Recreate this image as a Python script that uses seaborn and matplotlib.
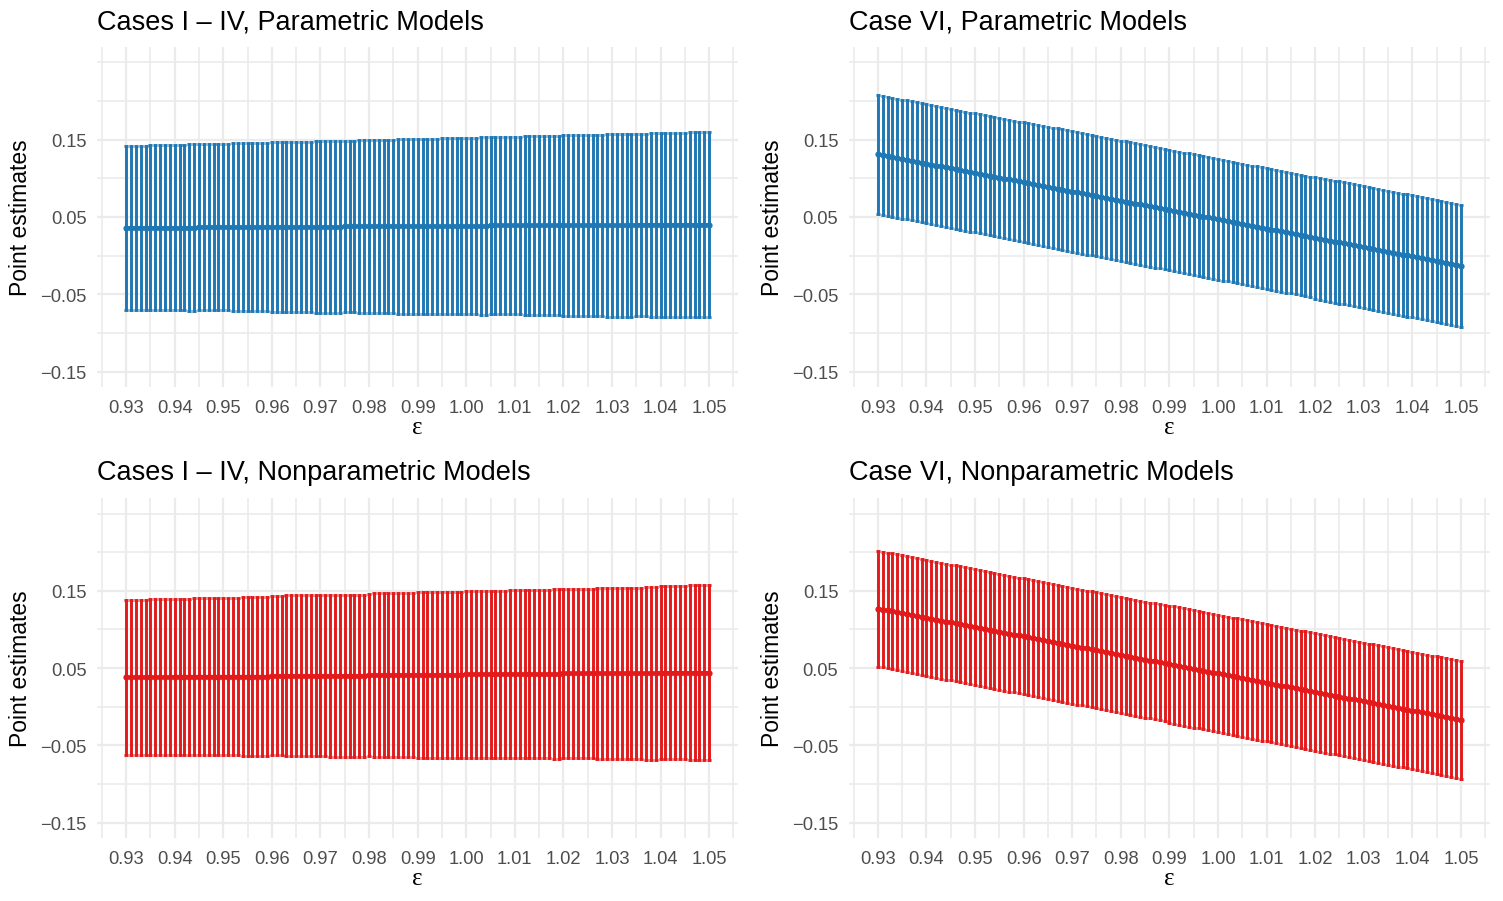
import matplotlib
matplotlib.use("Agg")
import matplotlib.pyplot as plt
import numpy as np
import pandas as pd
import seaborn as sns

## sensitivity parameter grid (epsilon)
eps = [
    0.930, 0.931, 0.932, 0.933, 0.934, 0.935, 0.936, 0.937, 0.938, 0.939,
    0.940, 0.941, 0.942, 0.943, 0.944, 0.945, 0.946, 0.947, 0.948, 0.949,
    0.950, 0.951, 0.952, 0.953, 0.954, 0.955, 0.956, 0.957, 0.958, 0.959,
    0.960, 0.961, 0.962, 0.963, 0.964, 0.965, 0.966, 0.967, 0.968, 0.969,
    0.970, 0.971, 0.972, 0.973, 0.974, 0.975, 0.976, 0.977, 0.978, 0.979,
    0.980, 0.981, 0.982, 0.983, 0.984, 0.985, 0.986, 0.987, 0.988, 0.989,
    0.990, 0.991, 0.992, 0.993, 0.994, 0.995, 0.996, 0.997, 0.998, 0.999,
    1.000, 1.001, 1.002, 1.003, 1.004, 1.005, 1.006, 1.007, 1.008, 1.009,
    1.010, 1.011, 1.012, 1.013, 1.014, 1.015, 1.016, 1.017, 1.018, 1.019,
    1.020, 1.021, 1.022, 1.023, 1.024, 1.025, 1.026, 1.027, 1.028, 1.029,
    1.030, 1.031, 1.032, 1.033, 1.034, 1.035, 1.036, 1.037, 1.038, 1.039,
    1.040, 1.041, 1.042, 1.043, 1.044, 1.045, 1.046, 1.047, 1.048, 1.049,
    1.050,
]

## Cases I - IV, parametric: point estimate and CI half width
par14_est = [
    0.036, 0.036, 0.036, 0.036, 0.036, 0.036, 0.036, 0.036, 0.036, 0.036,
    0.036, 0.036, 0.036, 0.036, 0.036, 0.037, 0.037, 0.037, 0.037, 0.037,
    0.037, 0.037, 0.037, 0.037, 0.037, 0.037, 0.037, 0.037, 0.037, 0.037,
    0.037, 0.037, 0.037, 0.037, 0.037, 0.037, 0.037, 0.037, 0.037, 0.037,
    0.037, 0.037, 0.037, 0.037, 0.037, 0.038, 0.038, 0.038, 0.038, 0.038,
    0.038, 0.038, 0.038, 0.038, 0.038, 0.038, 0.038, 0.038, 0.038, 0.038,
    0.038, 0.038, 0.038, 0.038, 0.038, 0.038, 0.038, 0.038, 0.038, 0.038,
    0.038, 0.038, 0.038, 0.038, 0.038, 0.039, 0.039, 0.039, 0.039, 0.039,
    0.039, 0.039, 0.039, 0.039, 0.039, 0.039, 0.039, 0.039, 0.039, 0.039,
    0.039, 0.039, 0.039, 0.039, 0.039, 0.039, 0.039, 0.039, 0.039, 0.039,
    0.039, 0.039, 0.039, 0.039, 0.039, 0.040, 0.040, 0.040, 0.040, 0.040,
    0.040, 0.040, 0.040, 0.040, 0.040, 0.040, 0.040, 0.040, 0.040, 0.040,
    0.040,
]
par14_hw = [
    0.106, 0.106, 0.106, 0.106, 0.106, 0.107, 0.107, 0.107, 0.107, 0.107,
    0.107, 0.107, 0.107, 0.108, 0.108, 0.108, 0.108, 0.108, 0.108, 0.108,
    0.108, 0.108, 0.109, 0.109, 0.109, 0.109, 0.109, 0.109, 0.109, 0.109,
    0.110, 0.110, 0.110, 0.110, 0.110, 0.110, 0.110, 0.110, 0.110, 0.111,
    0.111, 0.111, 0.111, 0.111, 0.111, 0.111, 0.111, 0.111, 0.112, 0.112,
    0.112, 0.112, 0.112, 0.112, 0.112, 0.112, 0.113, 0.113, 0.113, 0.113,
    0.113, 0.113, 0.113, 0.113, 0.113, 0.114, 0.114, 0.114, 0.114, 0.114,
    0.114, 0.114, 0.114, 0.115, 0.115, 0.115, 0.115, 0.115, 0.115, 0.115,
    0.115, 0.115, 0.116, 0.116, 0.116, 0.116, 0.116, 0.116, 0.116, 0.116,
    0.117, 0.117, 0.117, 0.117, 0.117, 0.117, 0.117, 0.117, 0.117, 0.118,
    0.118, 0.118, 0.118, 0.118, 0.118, 0.118, 0.118, 0.118, 0.119, 0.119,
    0.119, 0.119, 0.119, 0.119, 0.119, 0.119, 0.120, 0.120, 0.120, 0.120,
    0.120,
]

## Case VI, parametric
par6_est = [
    0.1310, 0.1298, 0.1286, 0.1274, 0.1262, 0.1250, 0.1238, 0.1226, 0.1214, 0.1202,
    0.1190, 0.1178, 0.1166, 0.1154, 0.1142, 0.1130, 0.1118, 0.1106, 0.1094, 0.1082,
    0.1070, 0.1058, 0.1046, 0.1034, 0.1022, 0.1010, 0.0998, 0.0986, 0.0974, 0.0962,
    0.0950, 0.0938, 0.0926, 0.0914, 0.0902, 0.0890, 0.0878, 0.0866, 0.0854, 0.0842,
    0.0830, 0.0818, 0.0806, 0.0794, 0.0782, 0.0770, 0.0758, 0.0746, 0.0734, 0.0722,
    0.0710, 0.0698, 0.0686, 0.0674, 0.0662, 0.0650, 0.0638, 0.0626, 0.0614, 0.0602,
    0.0590, 0.0578, 0.0566, 0.0554, 0.0542, 0.0530, 0.0518, 0.0506, 0.0494, 0.0482,
    0.0470, 0.0458, 0.0446, 0.0434, 0.0422, 0.0410, 0.0398, 0.0386, 0.0374, 0.0362,
    0.0350, 0.0338, 0.0326, 0.0314, 0.0302, 0.0290, 0.0278, 0.0266, 0.0254, 0.0242,
    0.0230, 0.0218, 0.0206, 0.0194, 0.0182, 0.0170, 0.0158, 0.0146, 0.0134, 0.0122,
    0.0110, 0.0098, 0.0086, 0.0074, 0.0062, 0.0050, 0.0038, 0.0026, 0.0014, 0.0002,
    -0.0010, -0.0022, -0.0034, -0.0046, -0.0058, -0.0070, -0.0082, -0.0094, -0.0106, -0.0118,
    -0.0130,
]
par6_hw = [
    0.077, 0.077, 0.077, 0.077, 0.077, 0.077, 0.077, 0.077, 0.077, 0.077,
    0.077, 0.077, 0.077, 0.077, 0.077, 0.077, 0.077, 0.077, 0.077, 0.077,
    0.077, 0.077, 0.077, 0.077, 0.077, 0.077, 0.077, 0.077, 0.077, 0.077,
    0.078, 0.078, 0.078, 0.078, 0.078, 0.078, 0.078, 0.078, 0.078, 0.078,
    0.078, 0.078, 0.078, 0.078, 0.078, 0.078, 0.078, 0.078, 0.078, 0.078,
    0.078, 0.078, 0.078, 0.078, 0.078, 0.078, 0.078, 0.078, 0.078, 0.078,
    0.078, 0.078, 0.078, 0.078, 0.078, 0.078, 0.078, 0.078, 0.078, 0.078,
    0.078, 0.078, 0.078, 0.078, 0.078, 0.078, 0.078, 0.078, 0.078, 0.078,
    0.078, 0.078, 0.078, 0.078, 0.078, 0.078, 0.078, 0.078, 0.078, 0.078,
    0.079, 0.079, 0.079, 0.079, 0.079, 0.079, 0.079, 0.079, 0.079, 0.079,
    0.079, 0.079, 0.079, 0.079, 0.079, 0.079, 0.079, 0.079, 0.079, 0.079,
    0.079, 0.079, 0.079, 0.079, 0.079, 0.079, 0.079, 0.079, 0.079, 0.079,
    0.079,
]

## Cases I - IV, nonparametric
np14_est = [
    0.038, 0.038, 0.038, 0.038, 0.038, 0.038, 0.038, 0.038, 0.038, 0.038,
    0.039, 0.039, 0.039, 0.039, 0.039, 0.039, 0.039, 0.039, 0.039, 0.039,
    0.039, 0.039, 0.039, 0.039, 0.039, 0.039, 0.039, 0.039, 0.039, 0.039,
    0.040, 0.040, 0.040, 0.040, 0.040, 0.040, 0.040, 0.040, 0.040, 0.040,
    0.040, 0.040, 0.040, 0.040, 0.040, 0.040, 0.040, 0.040, 0.040, 0.040,
    0.041, 0.041, 0.041, 0.041, 0.041, 0.041, 0.041, 0.041, 0.041, 0.041,
    0.041, 0.041, 0.041, 0.041, 0.041, 0.041, 0.041, 0.041, 0.041, 0.041,
    0.042, 0.042, 0.042, 0.042, 0.042, 0.042, 0.042, 0.042, 0.042, 0.042,
    0.042, 0.042, 0.042, 0.042, 0.042, 0.042, 0.042, 0.042, 0.042, 0.042,
    0.043, 0.043, 0.043, 0.043, 0.043, 0.043, 0.043, 0.043, 0.043, 0.043,
    0.043, 0.043, 0.043, 0.043, 0.043, 0.043, 0.043, 0.043, 0.043, 0.043,
    0.044, 0.044, 0.044, 0.044, 0.044, 0.044, 0.044, 0.044, 0.044, 0.044,
    0.044,
]
np14_hw = [
    0.100, 0.100, 0.100, 0.100, 0.100, 0.101, 0.101, 0.101, 0.101, 0.101,
    0.101, 0.101, 0.101, 0.101, 0.102, 0.102, 0.102, 0.102, 0.102, 0.102,
    0.102, 0.102, 0.102, 0.102, 0.103, 0.103, 0.103, 0.103, 0.103, 0.103,
    0.103, 0.103, 0.103, 0.104, 0.104, 0.104, 0.104, 0.104, 0.104, 0.104,
    0.104, 0.104, 0.105, 0.105, 0.105, 0.105, 0.105, 0.105, 0.105, 0.105,
    0.105, 0.106, 0.106, 0.106, 0.106, 0.106, 0.106, 0.106, 0.106, 0.106,
    0.107, 0.107, 0.107, 0.107, 0.107, 0.107, 0.107, 0.107, 0.107, 0.107,
    0.108, 0.108, 0.108, 0.108, 0.108, 0.108, 0.108, 0.108, 0.108, 0.109,
    0.109, 0.109, 0.109, 0.109, 0.109, 0.109, 0.109, 0.109, 0.110, 0.110,
    0.110, 0.110, 0.110, 0.110, 0.110, 0.110, 0.110, 0.111, 0.111, 0.111,
    0.111, 0.111, 0.111, 0.111, 0.111, 0.111, 0.111, 0.112, 0.112, 0.112,
    0.112, 0.112, 0.112, 0.112, 0.112, 0.112, 0.113, 0.113, 0.113, 0.113,
    0.113,
]

## Case VI, nonparametric
np6_est = [
    0.1270, 0.1258, 0.1246, 0.1234, 0.1222, 0.1210, 0.1198, 0.1186, 0.1174, 0.1162,
    0.1150, 0.1138, 0.1126, 0.1114, 0.1102, 0.1090, 0.1078, 0.1066, 0.1054, 0.1042,
    0.1030, 0.1018, 0.1006, 0.0994, 0.0982, 0.0970, 0.0958, 0.0946, 0.0934, 0.0922,
    0.0910, 0.0898, 0.0886, 0.0874, 0.0862, 0.0850, 0.0838, 0.0826, 0.0814, 0.0802,
    0.0790, 0.0778, 0.0766, 0.0754, 0.0742, 0.0730, 0.0718, 0.0706, 0.0694, 0.0682,
    0.0670, 0.0658, 0.0646, 0.0634, 0.0622, 0.0610, 0.0598, 0.0586, 0.0574, 0.0562,
    0.0550, 0.0538, 0.0526, 0.0514, 0.0502, 0.0490, 0.0478, 0.0466, 0.0454, 0.0442,
    0.0430, 0.0418, 0.0406, 0.0394, 0.0382, 0.0370, 0.0358, 0.0346, 0.0334, 0.0322,
    0.0310, 0.0298, 0.0286, 0.0274, 0.0262, 0.0250, 0.0238, 0.0226, 0.0214, 0.0202,
    0.0190, 0.0178, 0.0166, 0.0154, 0.0142, 0.0130, 0.0118, 0.0106, 0.0094, 0.0082,
    0.0070, 0.0058, 0.0046, 0.0034, 0.0022, 0.0010, -0.0002, -0.0014, -0.0026, -0.0038,
    -0.0050, -0.0062, -0.0074, -0.0086, -0.0098, -0.0110, -0.0122, -0.0134, -0.0146, -0.0158,
    -0.0170,
]
np6_hw = [
    0.075, 0.075, 0.075, 0.075, 0.075, 0.075, 0.075, 0.075, 0.075, 0.075,
    0.075, 0.075, 0.075, 0.075, 0.075, 0.075, 0.075, 0.075, 0.075, 0.075,
    0.075, 0.075, 0.075, 0.075, 0.075, 0.075, 0.075, 0.075, 0.075, 0.075,
    0.075, 0.075, 0.075, 0.075, 0.075, 0.075, 0.075, 0.075, 0.075, 0.075,
    0.075, 0.075, 0.075, 0.075, 0.075, 0.075, 0.075, 0.075, 0.075, 0.075,
    0.075, 0.075, 0.075, 0.075, 0.075, 0.075, 0.075, 0.075, 0.075, 0.075,
    0.076, 0.076, 0.076, 0.076, 0.076, 0.076, 0.076, 0.076, 0.076, 0.076,
    0.076, 0.076, 0.076, 0.076, 0.076, 0.076, 0.076, 0.076, 0.076, 0.076,
    0.076, 0.076, 0.076, 0.076, 0.076, 0.076, 0.076, 0.076, 0.076, 0.076,
    0.076, 0.076, 0.076, 0.076, 0.076, 0.076, 0.076, 0.076, 0.076, 0.076,
    0.076, 0.076, 0.076, 0.076, 0.076, 0.076, 0.076, 0.076, 0.076, 0.076,
    0.076, 0.076, 0.076, 0.076, 0.076, 0.076, 0.076, 0.076, 0.076, 0.076,
    0.076,
]

titles = [
    "Cases I \u2013 IV, Parametric Models",
    "Case VI, Parametric Models",
    "Cases I \u2013 IV, Nonparametric Models",
    "Case VI, Nonparametric Models",
]
x_ticks = [0.93, 0.94, 0.95, 0.96, 0.97, 0.98, 0.99, 1.00, 1.01, 1.02, 1.03, 1.04, 1.05]
y_ticks = [-0.15, -0.05, 0.05, 0.15]
y_tick_labels = ["\u22120.15", "\u22120.05", "0.05", "0.15"]

BLUE = "#1F78B4"
RED = "#E31A1C"
GRID = "#EBEBEB"

panels = [
    (titles[0], par14_est, par14_hw, BLUE),
    (titles[1], par6_est, par6_hw, BLUE),
    (titles[2], np14_est, np14_hw, RED),
    (titles[3], np6_est, np6_hw, RED),
]

sns.set_theme(style="white")
plt.rcParams["font.family"] = ["Liberation Sans", "DejaVu Sans"]

fig, axes = plt.subplots(2, 2, figsize=(10.02, 6.013), dpi=150)
fig.subplots_adjust(left=0.0645, right=0.9914, top=0.9468, bottom=0.0698,
                    wspace=0.172, hspace=0.327)

for ax, (title, est, hw, col) in zip(axes.flat, panels):
    df = pd.DataFrame({"eps": eps, "est": est, "hw": hw})
    # confidence bars
    ax.errorbar(df["eps"], df["est"], yerr=df["hw"], fmt="none", ecolor=col,
                elinewidth=1.4, capsize=1.0, capthick=1.4, zorder=2)
    # point estimates
    sns.lineplot(data=df, x="eps", y="est", ax=ax, color=col, lw=1.6,
                 marker="o", markersize=3.0, markeredgewidth=0, zorder=3)
    ax.set_xlim(0.924, 1.056)
    ax.set_ylim(-0.17, 0.27)
    ax.set_xticks(x_ticks)
    ax.set_xticklabels([f"{t:.2f}" for t in x_ticks])
    ax.set_xticks(np.round(np.arange(0.925, 1.06, 0.01), 3), minor=True)
    ax.set_yticks(y_ticks)
    ax.set_yticklabels(y_tick_labels)
    ax.set_yticks([-0.10, 0.0, 0.10, 0.20, 0.25], minor=True)
    ax.grid(which="major", color=GRID, lw=1.1)
    ax.grid(which="minor", color=GRID, lw=0.8)
    ax.set_axisbelow(True)
    for s in ax.spines.values():
        s.set_visible(False)
    ax.tick_params(which="both", length=0, labelsize=8.8, labelcolor="#4D4D4D")
    ax.tick_params(axis="x", pad=6)
    ax.tick_params(axis="y", pad=5)
    ax.set_title(title, loc="left", fontsize=13, pad=9, color="black")
    ax.set_xlabel("\u03b5", family=["Liberation Serif", "DejaVu Serif"],
                  fontsize=12, labelpad=0, color="black")
    ax.set_ylabel("Point estimates", fontsize=11, labelpad=4, color="black")

plt.savefig("out.png", dpi=150)
plt.close()
